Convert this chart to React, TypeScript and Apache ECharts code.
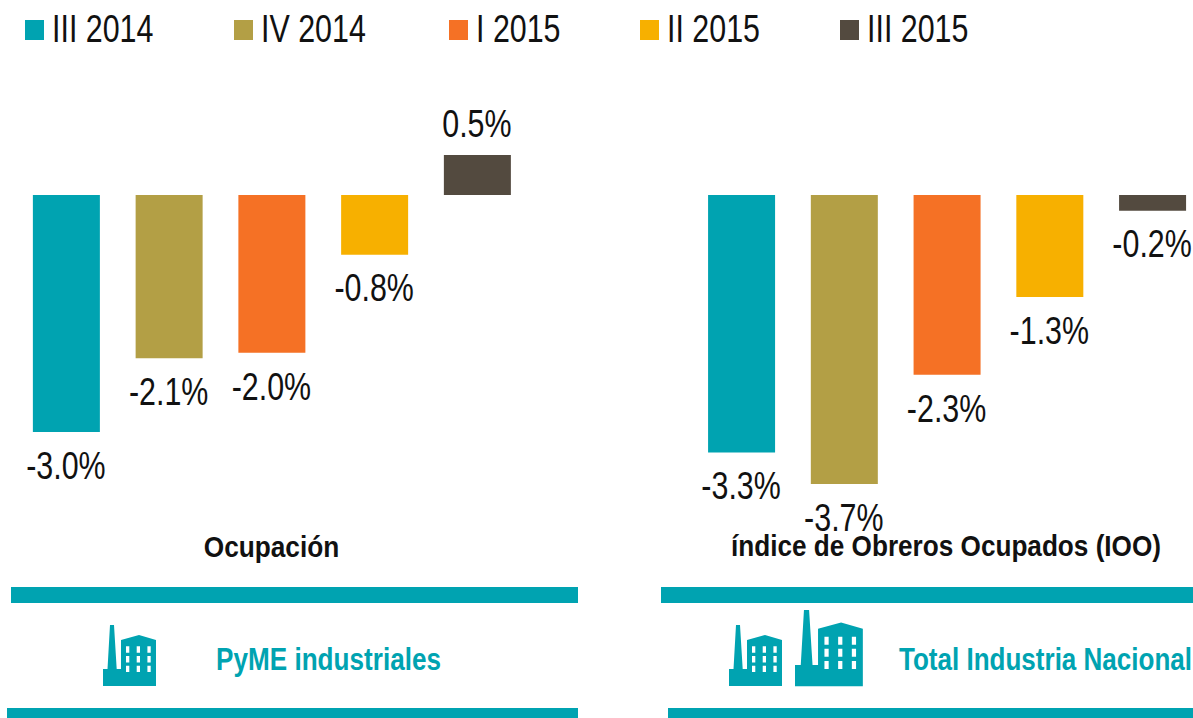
import React, { useEffect, useRef } from "react";
import * as echarts from "echarts";

const periods = ["III 2014", "IV 2014", "I 2015", "II 2015", "III 2015"];
const colors = ["#00a3b1", "#b39f45", "#f57125", "#f7b000", "#534a3f"];
const pymeValues = [-3.02, -2.08, -2.01, -0.76, 0.51];
const totalValues = [-3.28, -3.68, -2.29, -1.3, -0.2];
const chartTitles = ["Ocupación", "índice de Obreros Ocupados (IOO)"];
const groupNames = ["PyME industriales", "Total Industria Nacional"];
const legendIconX = [25, 234, 449, 640, 840];

const FONT = "'Liberation Sans', Arial, sans-serif";
const TEAL = "#00a3b1";
const INK = "#111111";

function rectPath(x: number, y: number, w: number, h: number) {
  // counter-clockwise so that it cuts a hole under the nonzero fill rule
  return `M${x} ${y}L${x} ${y + h}L${x + w} ${y + h}L${x + w} ${y}Z`;
}
let factoryPath =
  "M0 61L0 44L4.5 44L7 0L11 0L13.7 44L18 44L18 15L36 10L53 15L53 61Z";
[23, 33.7, 44.4].forEach((x) =>
  [21.3, 31, 40.7].forEach((y) => {
    factoryPath += rectPath(x, y, 3.3, 6.4);
  })
);
echarts.graphic.registerShape("factoryIcon", echarts.graphic.extendPath(factoryPath, {}) as any);

function icon(x: number, y: number, sx: number, sy: number) {
  return { type: "factoryIcon", x, y, scaleX: sx, scaleY: sy, style: { fill: TEAL } };
}
function band(x: number, y: number, w: number, h: number, fill = TEAL) {
  return { type: "rect", shape: { x, y, width: w, height: h }, style: { fill } };
}
function label(text: string, x: number, y: number, size: number, fill: string, scaleX: number) {
  return {
    type: "text",
    x,
    y,
    scaleX,
    style: { text, fill, font: `bold ${size}px ${FONT}`, textAlign: "center", textVerticalAlign: "middle" },
  };
}
function legendItem(i: number) {
  return [
    band(legendIconX[i], 20, 19, 20, colors[i]),
    {
      type: "text",
      x: legendIconX[i] + 27,
      y: 29,
      scaleX: 0.8,
      style: {
        text: periods[i],
        fill: INK,
        font: `38px ${FONT}`,
        textAlign: "left",
        textVerticalAlign: "middle",
      },
    },
  ];
}

export default function App() {
  const ref = useRef<HTMLDivElement>(null);
  useEffect(() => {
    document.body.style.margin = "0";
    const chart = echarts.init(ref.current!, null, { renderer: "svg" });
    const barSeries = (vals: number[], axis: number) =>
      periods.map((p, i) => ({
        name: p,
        type: "bar",
        xAxisIndex: axis,
        yAxisIndex: axis,
        barWidth: 67,
        barGap: "-100%",
        itemStyle: { color: colors[i] },
        data: [[p, vals[i]]],
      }));
    const labelSeries = (vals: number[], axis: number) => ({
      type: "custom",
      xAxisIndex: axis,
      yAxisIndex: axis,
      clip: false,
      z: 5,
      data: periods.map((p, i) => [p, vals[i]]),
      renderItem: (_: any, api: any) => {
        const v = api.value(1);
        const [x, y] = api.coord([api.value(0), v]);
        return {
          type: "text",
          x: x - 0.5,
          y: y + (v < 0 ? 33.5 : -31),
          scaleX: 0.8,
          style: {
            text: `${v.toFixed(1)}%`,
            fill: INK,
            font: `38px ${FONT}`,
            textAlign: "center",
            textVerticalAlign: "middle",
          },
        };
      },
    });
    const xAxisBase = {
      type: "category",
      data: periods,
      axisLine: { show: false },
      axisTick: { show: false },
      axisLabel: { show: false },
    };
    const yAxisBase = { type: "value", min: -4, max: 1, show: false, splitLine: { show: false } };
    chart.setOption({
      animation: false,
      backgroundColor: "#fff",
      grid: [
        { left: 15, top: 116.5, width: 513.75, height: 392.5, outerBoundsMode: "none" },
        { left: 690.2, top: 116.5, width: 513.75, height: 392.5, outerBoundsMode: "none" },
      ],
      xAxis: [{ ...xAxisBase, gridIndex: 0 }, { ...xAxisBase, gridIndex: 1 }],
      yAxis: [{ ...yAxisBase, gridIndex: 0 }, { ...yAxisBase, gridIndex: 1 }],
      series: [
        ...barSeries(pymeValues, 0),
        ...barSeries(totalValues, 1),
        labelSeries(pymeValues, 0),
        labelSeries(totalValues, 1),
      ],
      graphic: [
        ...periods.flatMap((_, i) => legendItem(i)),
        label(chartTitles[0], 271.5, 546, 30, INK, 0.875),
        label(chartTitles[1], 946, 546, 30, INK, 0.872),
        band(11, 587, 567, 16),
        band(661, 587, 532, 16),
        band(7, 708, 571, 10),
        band(668, 708, 525, 10),
        icon(103, 625, 1, 1),
        icon(729, 625, 1, 1),
        icon(795, 610, 1.28, 1.25),
        label(groupNames[0], 328.5, 659, 31, TEAL, 0.843),
        label(groupNames[1], 1045.5, 659, 31, TEAL, 0.84),
      ],
    } as any);
    return () => chart.dispose();
  }, []);
  return <div ref={ref} style={{ width: 1193, height: 718 }} />;
}
